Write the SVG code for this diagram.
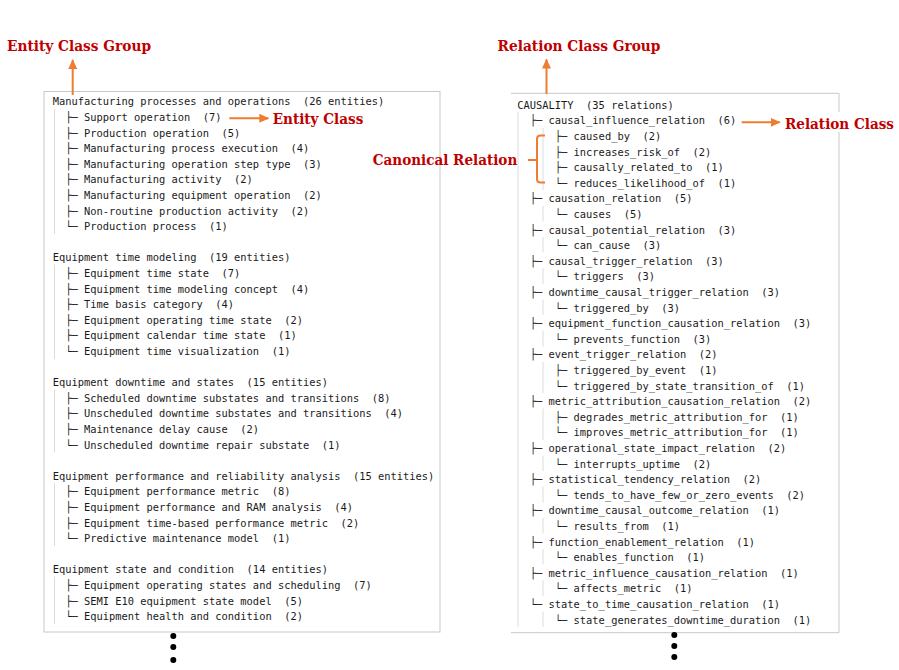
<svg xmlns="http://www.w3.org/2000/svg" width="899" height="670" viewBox="0 0 899 670">
<defs>
<marker id="ah" viewBox="0 0 10 10" refX="9" refY="5" markerWidth="10" markerHeight="10" markerUnits="userSpaceOnUse" orient="auto">
<path d="M0,0.5 L10,5 L0,9.5 z" fill="#ED7D31"/>
</marker>
<style>
.m{font-family:"DejaVu Sans Mono","Liberation Mono",monospace;font-size:10.4px;fill:#1a1a1a;white-space:pre}
.lab{font-family:"DejaVu Serif","Liberation Serif",serif;font-size:15px;font-weight:bold;fill:#C00000}
.box{fill:#fff;stroke:#c8c8c8;stroke-width:1}
.g{stroke:#dcdcdc;stroke-width:1;fill:none}
.arr{stroke:#ED7D31;stroke-width:2;fill:none}
.dot{fill:#000}
</style>
</defs>
<rect width="899" height="670" fill="#fff"/>

<g id="entity-box">
<rect class="box" x="44" y="91.5" width="396" height="540.5"/>
<g class="g-lines">
<line class="g" x1="54.5" y1="109" x2="54.5" y2="234"/>
<line class="g" x1="54.5" y1="264.5" x2="54.5" y2="359"/>
<line class="g" x1="54.5" y1="389.5" x2="54.5" y2="452.5"/>
<line class="g" x1="54.5" y1="483" x2="54.5" y2="546"/>
<line class="g" x1="54.5" y1="576.5" x2="54.5" y2="624"/>
</g>
<text class="m" xml:space="preserve" x="52.7" y="105.4">Manufacturing processes and operations  (26 entities)</text>
<text class="m" xml:space="preserve" x="52.7" y="121.0">  ├─ Support operation  (7)</text>
<text class="m" xml:space="preserve" x="52.7" y="136.6">  ├─ Production operation  (5)</text>
<text class="m" xml:space="preserve" x="52.7" y="152.2">  ├─ Manufacturing process execution  (4)</text>
<text class="m" xml:space="preserve" x="52.7" y="167.8">  ├─ Manufacturing operation step type  (3)</text>
<text class="m" xml:space="preserve" x="52.7" y="183.4">  ├─ Manufacturing activity  (2)</text>
<text class="m" xml:space="preserve" x="52.7" y="199.0">  ├─ Manufacturing equipment operation  (2)</text>
<text class="m" xml:space="preserve" x="52.7" y="214.6">  ├─ Non-routine production activity  (2)</text>
<text class="m" xml:space="preserve" x="52.7" y="230.2">  └─ Production process  (1)</text>
<text class="m" xml:space="preserve" x="52.7" y="261.4">Equipment time modeling  (19 entities)</text>
<text class="m" xml:space="preserve" x="52.7" y="277.0">  ├─ Equipment time state  (7)</text>
<text class="m" xml:space="preserve" x="52.7" y="292.6">  ├─ Equipment time modeling concept  (4)</text>
<text class="m" xml:space="preserve" x="52.7" y="308.2">  ├─ Time basis category  (4)</text>
<text class="m" xml:space="preserve" x="52.7" y="323.8">  ├─ Equipment operating time state  (2)</text>
<text class="m" xml:space="preserve" x="52.7" y="339.4">  ├─ Equipment calendar time state  (1)</text>
<text class="m" xml:space="preserve" x="52.7" y="355.0">  └─ Equipment time visualization  (1)</text>
<text class="m" xml:space="preserve" x="52.7" y="386.2">Equipment downtime and states  (15 entities)</text>
<text class="m" xml:space="preserve" x="52.7" y="401.8">  ├─ Scheduled downtime substates and transitions  (8)</text>
<text class="m" xml:space="preserve" x="52.7" y="417.4">  ├─ Unscheduled downtime substates and transitions  (4)</text>
<text class="m" xml:space="preserve" x="52.7" y="433.0">  ├─ Maintenance delay cause  (2)</text>
<text class="m" xml:space="preserve" x="52.7" y="448.6">  └─ Unscheduled downtime repair substate  (1)</text>
<text class="m" xml:space="preserve" x="52.7" y="479.8">Equipment performance and reliability analysis  (15 entities)</text>
<text class="m" xml:space="preserve" x="52.7" y="495.4">  ├─ Equipment performance metric  (8)</text>
<text class="m" xml:space="preserve" x="52.7" y="511.0">  ├─ Equipment performance and RAM analysis  (4)</text>
<text class="m" xml:space="preserve" x="52.7" y="526.6">  ├─ Equipment time-based performance metric  (2)</text>
<text class="m" xml:space="preserve" x="52.7" y="542.2">  └─ Predictive maintenance model  (1)</text>
<text class="m" xml:space="preserve" x="52.7" y="573.4">Equipment state and condition  (14 entities)</text>
<text class="m" xml:space="preserve" x="52.7" y="589.0">  ├─ Equipment operating states and scheduling  (7)</text>
<text class="m" xml:space="preserve" x="52.7" y="604.6">  ├─ SEMI E10 equipment state model  (5)</text>
<text class="m" xml:space="preserve" x="52.7" y="620.2">  └─ Equipment health and condition  (2)</text>
</g>

<g id="relation-box">
<rect x="511" y="93.3" width="328" height="539.4" fill="#fff"/>
<line x1="511" y1="93.3" x2="839" y2="93.3" stroke="#c8c8c8"/>
<line x1="839" y1="93.3" x2="839" y2="632.7" stroke="#c8c8c8"/>
<line x1="511" y1="632.7" x2="839" y2="632.7" stroke="#c8c8c8"/>
<line class="g" x1="518" y1="112" x2="518" y2="627"/>
<line class="g" x1="543" y1="128" x2="543" y2="190"/>
<line class="g" x1="543" y1="206" x2="543" y2="221.5"/>
<line class="g" x1="543" y1="237" x2="543" y2="252.5"/>
<line class="g" x1="543" y1="268.5" x2="543" y2="284"/>
<line class="g" x1="543" y1="299.5" x2="543" y2="315"/>
<line class="g" x1="543" y1="330.5" x2="543" y2="346.5"/>
<line class="g" x1="543" y1="362" x2="543" y2="393"/>
<line class="g" x1="543" y1="408.5" x2="543" y2="440"/>
<line class="g" x1="543" y1="455.5" x2="543" y2="471"/>
<line class="g" x1="543" y1="486.5" x2="543" y2="502.5"/>
<line class="g" x1="543" y1="518" x2="543" y2="533.5"/>
<line class="g" x1="543" y1="549" x2="543" y2="564.5"/>
<line class="g" x1="543" y1="580.5" x2="543" y2="596"/>
<line class="g" x1="543" y1="611.5" x2="543" y2="627"/>
<text class="m" xml:space="preserve" x="517.3" y="108.7">CAUSALITY  (35 relations)</text>
<text class="m" xml:space="preserve" x="517.3" y="124.3">  ├─ causal_influence_relation  (6)</text>
<text class="m" xml:space="preserve" x="517.3" y="139.9">      ├─ caused_by  (2)</text>
<text class="m" xml:space="preserve" x="517.3" y="155.5">      ├─ increases_risk_of  (2)</text>
<text class="m" xml:space="preserve" x="517.3" y="171.1">      ├─ causally_related_to  (1)</text>
<text class="m" xml:space="preserve" x="517.3" y="186.7">      └─ reduces_likelihood_of  (1)</text>
<text class="m" xml:space="preserve" x="517.3" y="202.3">  ├─ causation_relation  (5)</text>
<text class="m" xml:space="preserve" x="517.3" y="217.9">      └─ causes  (5)</text>
<text class="m" xml:space="preserve" x="517.3" y="233.5">  ├─ causal_potential_relation  (3)</text>
<text class="m" xml:space="preserve" x="517.3" y="249.1">      └─ can_cause  (3)</text>
<text class="m" xml:space="preserve" x="517.3" y="264.7">  ├─ causal_trigger_relation  (3)</text>
<text class="m" xml:space="preserve" x="517.3" y="280.3">      └─ triggers  (3)</text>
<text class="m" xml:space="preserve" x="517.3" y="295.9">  ├─ downtime_causal_trigger_relation  (3)</text>
<text class="m" xml:space="preserve" x="517.3" y="311.5">      └─ triggered_by  (3)</text>
<text class="m" xml:space="preserve" x="517.3" y="327.1">  ├─ equipment_function_causation_relation  (3)</text>
<text class="m" xml:space="preserve" x="517.3" y="342.7">      └─ prevents_function  (3)</text>
<text class="m" xml:space="preserve" x="517.3" y="358.3">  ├─ event_trigger_relation  (2)</text>
<text class="m" xml:space="preserve" x="517.3" y="373.9">      ├─ triggered_by_event  (1)</text>
<text class="m" xml:space="preserve" x="517.3" y="389.5">      └─ triggered_by_state_transition_of  (1)</text>
<text class="m" xml:space="preserve" x="517.3" y="405.1">  ├─ metric_attribution_causation_relation  (2)</text>
<text class="m" xml:space="preserve" x="517.3" y="420.7">      ├─ degrades_metric_attribution_for  (1)</text>
<text class="m" xml:space="preserve" x="517.3" y="436.3">      └─ improves_metric_attribution_for  (1)</text>
<text class="m" xml:space="preserve" x="517.3" y="451.9">  ├─ operational_state_impact_relation  (2)</text>
<text class="m" xml:space="preserve" x="517.3" y="467.5">      └─ interrupts_uptime  (2)</text>
<text class="m" xml:space="preserve" x="517.3" y="483.1">  ├─ statistical_tendency_relation  (2)</text>
<text class="m" xml:space="preserve" x="517.3" y="498.7">      └─ tends_to_have_few_or_zero_events  (2)</text>
<text class="m" xml:space="preserve" x="517.3" y="514.3">  ├─ downtime_causal_outcome_relation  (1)</text>
<text class="m" xml:space="preserve" x="517.3" y="529.9">      └─ results_from  (1)</text>
<text class="m" xml:space="preserve" x="517.3" y="545.5">  ├─ function_enablement_relation  (1)</text>
<text class="m" xml:space="preserve" x="517.3" y="561.1">      └─ enables_function  (1)</text>
<text class="m" xml:space="preserve" x="517.3" y="576.7">  ├─ metric_influence_causation_relation  (1)</text>
<text class="m" xml:space="preserve" x="517.3" y="592.3">      └─ affects_metric  (1)</text>
<text class="m" xml:space="preserve" x="517.3" y="607.9">  └─ state_to_time_causation_relation  (1)</text>
<text class="m" xml:space="preserve" x="517.3" y="623.5">      └─ state_generates_downtime_duration  (1)</text>
</g>

<g id="label-entity-class-group"><text class="lab" x="7" y="51" textLength="144" lengthAdjust="spacingAndGlyphs">Entity Class Group</text></g>
<g id="label-entity-class"><text class="lab" x="272.7" y="124" textLength="90.6" lengthAdjust="spacingAndGlyphs">Entity Class</text></g>
<g id="label-relation-class-group"><text class="lab" x="497.5" y="51" textLength="163" lengthAdjust="spacingAndGlyphs">Relation Class Group</text></g>
<g id="label-relation-class"><rect x="783" y="112" width="114" height="20" fill="#fff"/><text class="lab" x="785" y="128.5" textLength="109" lengthAdjust="spacingAndGlyphs">Relation Class</text></g>
<g id="label-canonical-relation"><text class="lab" x="372.7" y="165" textLength="144.6" lengthAdjust="spacingAndGlyphs">Canonical Relation</text></g>

<g id="connectors">
<line class="arr" x1="72.7" y1="95" x2="72.7" y2="60" marker-end="url(#ah)"/>
<line class="arr" x1="229.3" y1="118.3" x2="268.3" y2="118.3" marker-end="url(#ah)"/>
<line class="arr" x1="546.5" y1="94" x2="546.5" y2="59.5" marker-end="url(#ah)"/>
<line class="arr" x1="741.7" y1="122.3" x2="779.7" y2="122.3" marker-end="url(#ah)"/>
<path class="arr" d="M545,135.5 H540.5 Q537,135.5 537,139 V179 Q537,182.5 540.5,182.5 H545 M528,160 H537"/>
</g>

<g id="more-dots">
<circle class="dot" cx="173.3" cy="636" r="3"/>
<circle class="dot" cx="173.3" cy="647" r="3"/>
<circle class="dot" cx="173.3" cy="660" r="3"/>
<circle class="dot" cx="674.3" cy="635" r="3"/>
<circle class="dot" cx="674.3" cy="646" r="3"/>
<circle class="dot" cx="674.3" cy="657" r="3"/>
</g>
</svg>
